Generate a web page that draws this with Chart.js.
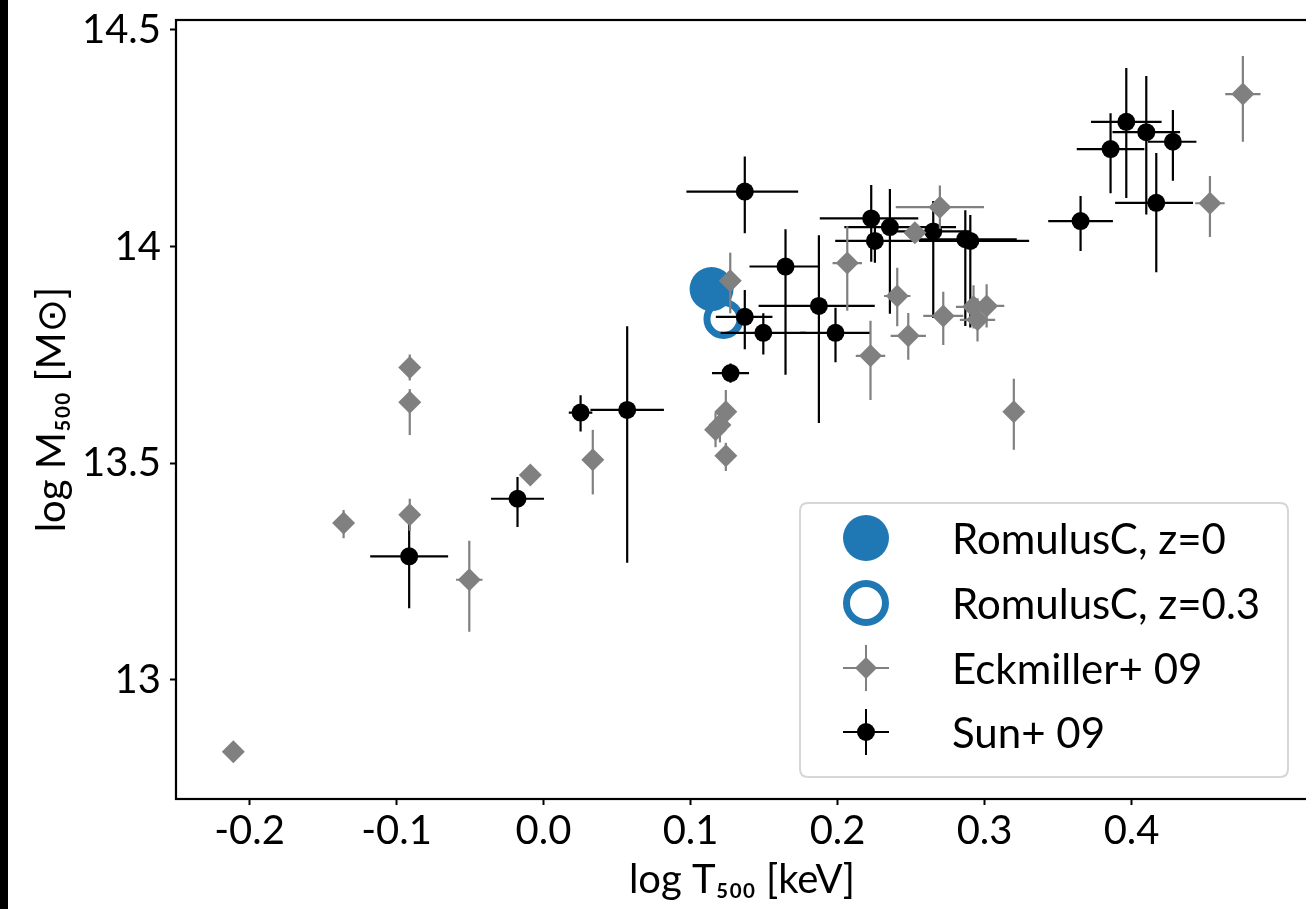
<!DOCTYPE html>
<html><head><meta charset="utf-8">
<script src="https://cdn.jsdelivr.net/npm/chart.js@4.4.0/dist/chart.umd.min.js"></script>
<style>
html,body{margin:0;padding:0;background:#fff;overflow:hidden;width:1306px;height:909px;}
#wrap{position:absolute;left:0;top:0;width:1320px;height:909px;}
#strip{position:absolute;left:0;top:0;width:8px;height:909px;background:#000;}
</style></head><body>
<div id="wrap"><canvas id="c" width="1320" height="909"></canvas></div>
<div id="strip"></div>
<script>
// ---- axis ticks ----
const xTickValues = [-0.2, -0.1, 0.0, 0.1, 0.2, 0.3, 0.4];
const xTickLabels = ['-0.2', '-0.1', '0.0', '0.1', '0.2', '0.3', '0.4'];
const yTickValues = [13, 13.5, 14, 14.5];
const yTickLabels = ['13', '13.5', '14', '14.5'];

// ---- RomulusC ----
const romZ0 = {x: 0.1143, y: 13.902};
const romZ03 = {x: 0.1224, y: 13.833};

// ---- Eckmiller+ 09 ----
const eckT    = [-0.211, -0.136, -0.091, -0.091, -0.091, -0.0505, -0.009, 0.0335, 0.124, 0.120, 0.117, 0.124, 0.127, 0.2066, 0.2526, 0.2696, 0.2406, 0.2481, 0.2224, 0.2719, 0.2925, 0.3014, 0.2952, 0.3199, 0.4533, 0.4757];
const eckM    = [12.834, 13.362, 13.721, 13.641, 13.381, 13.231, 13.473, 13.508, 13.619, 13.588, 13.577, 13.517, 13.921, 13.962, 14.032, 14.091, 13.886, 13.794, 13.748, 13.840, 13.861, 13.863, 13.831, 13.619, 14.100, 14.352];
const eckTErr = [0, 0, 0, 0, 0, 0.009, 0, 0, 0, 0, 0, 0, 0, 0.010, 0, 0.030, 0.009, 0.012, 0.010, 0.0136, 0.012, 0.012, 0.012, 0, 0.010, 0.012];
const eckMUp  = [0.005, 0.03, 0.03, 0.03, 0.037, 0.09, 0.01, 0.069, 0.05, 0.04, 0.04, 0.03, 0.065, 0.085, 0.01, 0.05, 0.065, 0.053, 0.081, 0.056, 0.05, 0.05, 0.05, 0.076, 0.063, 0.088];
const eckMDn  = [0.005, 0.035, 0.03, 0.076, 0.037, 0.12, 0.01, 0.08, 0.04, 0.04, 0.04, 0.035, 0.075, 0.11, 0.01, 0.05, 0.07, 0.055, 0.102, 0.067, 0.05, 0.05, 0.05, 0.088, 0.078, 0.11];

// ---- Sun+ 09 ----
const sunT    = [-0.0914, -0.0177, 0.0252, 0.0569, 0.1272, 0.1369, 0.1495, 0.1369, 0.1646, 0.1873, 0.1986, 0.2229, 0.2254, 0.2356, 0.2651, 0.2869, 0.2903, 0.3653, 0.3857, 0.3964, 0.4100, 0.4281, 0.4168];
const sunM    = [13.285, 13.418, 13.617, 13.623, 13.708, 13.838, 13.801, 14.127, 13.954, 13.863, 13.801, 14.065, 14.013, 14.045, 14.035, 14.017, 14.013, 14.059, 14.225, 14.288, 14.264, 14.242, 14.101];
const sunTLo  = [0.0265, 0.018, 0.008, 0.025, 0.0126, 0.0197, 0.029, 0.0397, 0.0245, 0.041, 0.024, 0.035, 0.027, 0.031, 0.025, 0.035, 0.035, 0.022, 0.023, 0.024, 0.023, 0.017, 0.028];
const sunTHi  = [0.0265, 0.018, 0.008, 0.025, 0.0126, 0.0188, 0.029, 0.0363, 0.0225, 0.038, 0.024, 0.032, 0.027, 0.045, 0.025, 0.035, 0.040, 0.022, 0.023, 0.024, 0.023, 0.016, 0.025];
const sunMUp  = [0.10, 0.05, 0.04, 0.193, 0.022, 0.062, 0.045, 0.081, 0.086, 0.163, 0.058, 0.077, 0.04, 0.088, 0.07, 0.067, 0.06, 0.058, 0.083, 0.124, 0.13, 0.073, 0.115];
const sunMDn  = [0.12, 0.065, 0.044, 0.353, 0.022, 0.075, 0.05, 0.096, 0.25, 0.27, 0.068, 0.10, 0.05, 0.20, 0.20, 0.20, 0.20, 0.069, 0.102, 0.176, 0.19, 0.09, 0.16];

const legendLabels = ['RomulusC, z=0', 'RomulusC, z=0.3', 'Eckmiller+ 09', 'Sun+ 09'];

const FONT = "Lato, 'DejaVu Sans', sans-serif";
const BLUE = '#1f77b4', GREY = '#808080';

const toPts = (xs, ys) => xs.map((x, i) => ({x: x, y: ys[i]}));
const noPad = s => {
  s.paddingLeft = 0; s.paddingRight = 0; s.paddingTop = 0; s.paddingBottom = 0;
  s.getPadding = () => ({left: 0, top: 0, right: 0, bottom: 0});
};

const errorBarPlugin = {
  id: 'errorBars',
  beforeDatasetDraw(chart, args) {
    const ds = chart.data.datasets[args.index];
    const e = ds.errorBars;
    if (!e) return;
    const xs = chart.scales.x, ys = chart.scales.y, ctx = chart.ctx, a = chart.chartArea;
    ctx.save();
    ctx.beginPath(); ctx.rect(a.left, a.top, a.right - a.left, a.bottom - a.top); ctx.clip();
    ctx.strokeStyle = e.color; ctx.lineWidth = e.width; ctx.lineCap = 'butt';
    ds.data.forEach((p, i) => {
      const px = xs.getPixelForValue(p.x), py = ys.getPixelForValue(p.y);
      const xl = xs.getPixelForValue(p.x - e.xLo[i]), xh = xs.getPixelForValue(p.x + e.xHi[i]);
      const yu = ys.getPixelForValue(p.y + e.yUp[i]), yd = ys.getPixelForValue(p.y - e.yDn[i]);
      ctx.beginPath();
      if (e.xLo[i] > 0 || e.xHi[i] > 0) { ctx.moveTo(xl, py); ctx.lineTo(xh, py); }
      ctx.moveTo(px, yu); ctx.lineTo(px, yd);
      ctx.stroke();
    });
    ctx.restore();
  }
};

const framePlugin = {
  id: 'frame',
  afterDatasetsDraw(chart) {
    const a = chart.chartArea, ctx = chart.ctx;
    ctx.save(); ctx.strokeStyle = '#000'; ctx.lineWidth = 2.2;
    ctx.strokeRect(a.left, a.top, a.right - a.left, a.bottom - a.top);
    ctx.restore();
  }
};

const legendPlugin = {
  id: 'boxLegend',
  afterDraw(chart) {
    const ctx = chart.ctx;
    const bx = 800, by = 503, bw = 488, bh = 274, r = 8;
    ctx.save();
    ctx.beginPath();
    ctx.moveTo(bx + r, by); ctx.lineTo(bx + bw - r, by); ctx.quadraticCurveTo(bx + bw, by, bx + bw, by + r);
    ctx.lineTo(bx + bw, by + bh - r); ctx.quadraticCurveTo(bx + bw, by + bh, bx + bw - r, by + bh);
    ctx.lineTo(bx + r, by + bh); ctx.quadraticCurveTo(bx, by + bh, bx, by + bh - r);
    ctx.lineTo(bx, by + r); ctx.quadraticCurveTo(bx, by, bx + r, by); ctx.closePath();
    ctx.fillStyle = 'rgba(255,255,255,0.8)'; ctx.fill();
    ctx.strokeStyle = '#d6d6d6'; ctx.lineWidth = 2; ctx.stroke();

    const mx = 866, rows = [538, 603, 668, 732], tx = 952;
    ctx.beginPath(); ctx.arc(mx, rows[0], 23, 0, 2 * Math.PI); ctx.fillStyle = BLUE; ctx.fill();
    ctx.beginPath(); ctx.arc(mx, rows[1], 19.5, 0, 2 * Math.PI); ctx.strokeStyle = BLUE; ctx.lineWidth = 7; ctx.stroke();
    ctx.strokeStyle = GREY; ctx.lineWidth = 2;
    ctx.beginPath(); ctx.moveTo(mx - 23, rows[2]); ctx.lineTo(mx + 23, rows[2]); ctx.moveTo(mx, rows[2] - 23); ctx.lineTo(mx, rows[2] + 23); ctx.stroke();
    ctx.beginPath(); ctx.moveTo(mx, rows[2] - 11); ctx.lineTo(mx + 11, rows[2]); ctx.lineTo(mx, rows[2] + 11); ctx.lineTo(mx - 11, rows[2]); ctx.closePath();
    ctx.fillStyle = GREY; ctx.fill();
    ctx.strokeStyle = '#000';
    ctx.beginPath(); ctx.moveTo(mx - 23, rows[3]); ctx.lineTo(mx + 23, rows[3]); ctx.moveTo(mx, rows[3] - 23); ctx.lineTo(mx, rows[3] + 23); ctx.stroke();
    ctx.beginPath(); ctx.arc(mx, rows[3], 9, 0, 2 * Math.PI); ctx.fillStyle = '#000'; ctx.fill();

    ctx.fillStyle = '#000'; ctx.font = '42px ' + FONT; ctx.textBaseline = 'middle'; ctx.textAlign = 'left';
    legendLabels.forEach((t, i) => ctx.fillText(t, tx, rows[i] + 2));
    ctx.restore();
  }
};

const tickFont = {family: FONT, size: 40};

new Chart(document.getElementById('c'), {
  type: 'scatter',
  data: {
    datasets: [
      {label: legendLabels[2], data: toPts(eckT, eckM), order: 1, pointStyle: 'rectRot', pointRadius: 11.5,
       backgroundColor: GREY, borderColor: GREY, borderWidth: 0,
       errorBars: {xLo: eckTErr, xHi: eckTErr, yUp: eckMUp, yDn: eckMDn, color: GREY, width: 2.2}},
      {label: legendLabels[3], data: toPts(sunT, sunM), order: 2, pointStyle: 'circle', pointRadius: 9,
       backgroundColor: '#000', borderColor: '#000', borderWidth: 0,
       errorBars: {xLo: sunTLo, xHi: sunTHi, yUp: sunMUp, yDn: sunMDn, color: '#000', width: 2.2}},
      {label: legendLabels[1], data: [romZ03], order: 3, pointStyle: 'circle', pointRadius: 16.5,
       backgroundColor: 'rgba(0,0,0,0)', borderColor: BLUE, borderWidth: 7},
      {label: legendLabels[0], data: [romZ0], order: 4, pointStyle: 'circle', pointRadius: 22,
       backgroundColor: BLUE, borderColor: BLUE, borderWidth: 0}
    ]
  },
  options: {
    responsive: false, animation: false, events: [], devicePixelRatio: 1,
    layout: {autoPadding: false, padding: {left: 0, top: 20, right: 12, bottom: 0}},
    plugins: {legend: {display: false}, tooltip: {enabled: false}},
    scales: {
      x: {
        type: 'linear', min: -0.25, max: 0.52,
        afterBuildTicks: s => { s.ticks = xTickValues.map(v => ({value: v})); },
        afterFit: s => { s.height = 110; noPad(s); },
        ticks: {callback: (v, i) => xTickLabels[i], font: tickFont, color: '#000', padding: 2, maxRotation: 0, autoSkip: false},
        grid: {drawOnChartArea: false, drawTicks: true, tickLength: 6, tickWidth: 2, tickColor: '#000'},
        border: {display: true, color: '#000', width: 2},
        title: {display: true, text: 'log T₅₀₀ [keV]', color: '#000', font: {family: FONT, size: 40, lineHeight: 1}, padding: {top: 0, bottom: 9}}
      },
      y: {
        type: 'linear', min: 12.725, max: 14.523,
        afterBuildTicks: s => { s.ticks = yTickValues.map(v => ({value: v})); },
        afterFit: s => { s.width = 176; noPad(s); },
        ticks: {callback: (v, i) => yTickLabels[i], font: tickFont, color: '#000', padding: 9, autoSkip: false},
        grid: {drawOnChartArea: false, drawTicks: true, tickLength: 6, tickWidth: 2, tickColor: '#000'},
        border: {display: true, color: '#000', width: 2},
        title: {display: true, text: 'log M₅₀₀ [M⊙]', color: '#000', font: {family: FONT, size: 40, lineHeight: 1}, padding: {top: 32, bottom: 0}}
      }
    }
  },
  plugins: [errorBarPlugin, framePlugin, legendPlugin]
});
</script>
</body></html>
